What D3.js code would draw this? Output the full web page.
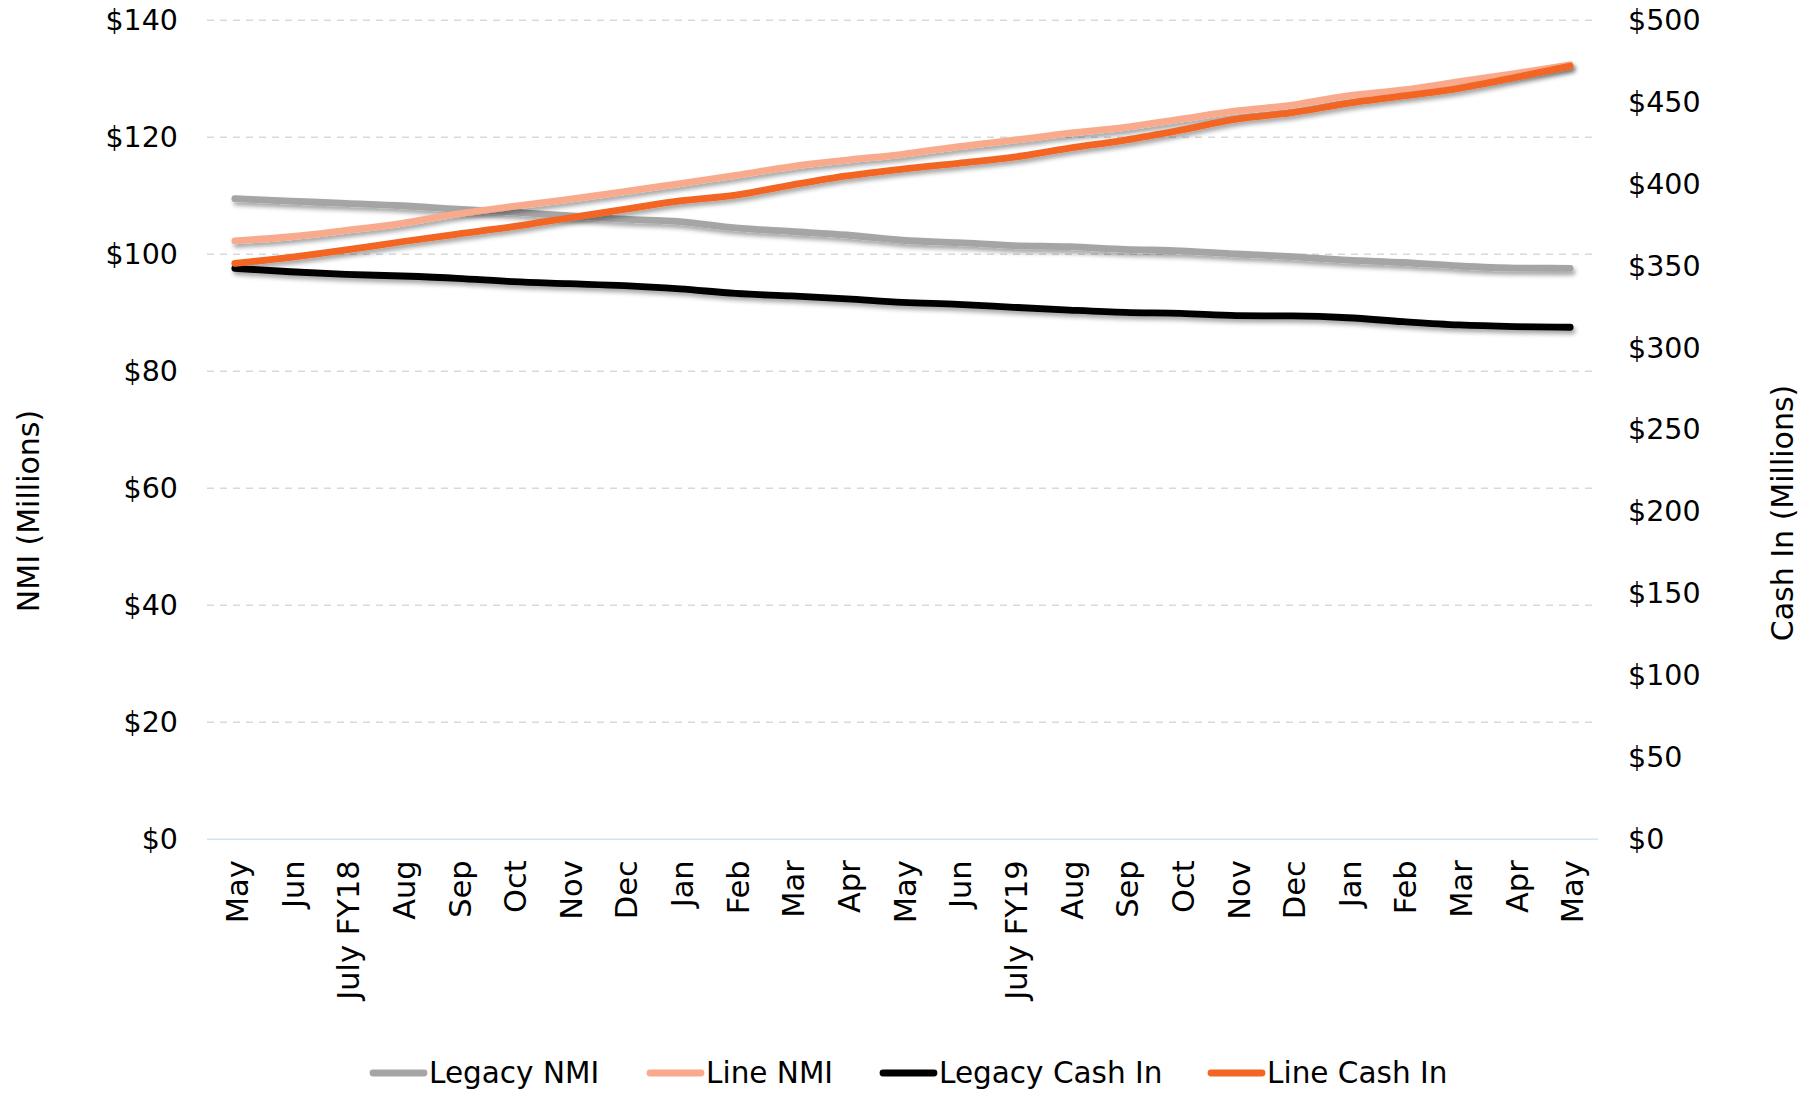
<!DOCTYPE html>
<html><head><meta charset="utf-8">
<script src="https://cdn.jsdelivr.net/npm/d3@7"></script>
<style>html,body{margin:0;padding:0;background:#fff;} text{font-family:"DejaVu Sans",Verdana,sans-serif;fill:#000;}</style>
</head><body>
<svg id="chart" width="1812" height="1093"></svg>
<script>
const categories = ["May","Jun","July FY18","Aug","Sep","Oct","Nov","Dec","Jan","Feb","Mar","Apr","May","Jun","July FY19","Aug","Sep","Oct","Nov","Dec","Jan","Feb","Mar","Apr","May"];
const legacyNMI = [109.5,109.1,108.7,108.3,107.7,107.2,106.6,106.0,105.6,104.5,103.9,103.3,102.4,102.0,101.5,101.3,100.85,100.6,100.05,99.6,99.0,98.6,98.0,97.65,97.6];
const lineNMI = [102.3,103.0,104.1,105.3,106.9,108.2,109.4,110.7,112.1,113.5,115.0,116.1,117.1,118.4,119.5,120.7,121.7,123.1,124.5,125.5,127.1,128.1,129.5,130.9,132.4];
const legacyCash = [348.6,346.5,344.9,343.9,342.5,340.4,339.2,338.0,336.0,333.3,331.7,329.9,327.8,326.6,324.8,323.1,321.7,321.1,319.7,319.5,318.4,316.0,314.0,313.0,312.6];
const lineCash = [351.6,355.3,359.8,364.8,369.5,374.0,379.3,384.6,389.7,393.3,399.4,405.0,409.2,412.7,416.4,421.9,426.9,433.0,439.7,443.6,449.3,453.8,458.5,465.0,472.0];
const leftTicks = [0,20,40,60,80,100,120,140];
const rightTicks = [0,50,100,150,200,250,300,350,400,450,500];
const seriesNames = ["Legacy NMI","Line NMI","Legacy Cash In","Line Cash In"];

const svg = d3.select("#chart");
const L = 207, R = 1598, T = 20.3, B = 839.3;
const FS = 28.5, FSX = 30.5, FSL = 29.5, FST = 30;

const defs = svg.append("defs");
const f = defs.append("filter").attr("id","shadow").attr("x","-5%").attr("y","-50%").attr("width","110%").attr("height","200%");
f.append("feDropShadow").attr("dx",2).attr("dy",3.5).attr("stdDeviation",2.2).attr("flood-color","#000").attr("flood-opacity",0.35);

const x = d3.scalePoint().domain(d3.range(categories.length)).range([L,R]).padding(0.5);
const yL = d3.scaleLinear().domain([0,140]).range([B,T]);
const yR = d3.scaleLinear().domain([0,500]).range([B,T]);

// gridlines
svg.append("g").selectAll("line").data(leftTicks.filter(d=>d>0)).join("line")
  .attr("x1",L).attr("x2",R).attr("y1",d=>yL(d)).attr("y2",d=>yL(d))
  .attr("stroke","#d9d9d9").attr("stroke-width",1.6).attr("stroke-dasharray","7,6");

// bottom axis line
svg.append("line").attr("x1",L).attr("x2",R).attr("y1",B).attr("y2",B).attr("stroke","#d6e2f0").attr("stroke-width",1.6);

// left axis
const gl = svg.append("g").attr("transform",`translate(${L},0)`)
  .call(d3.axisLeft(yL).tickValues(leftTicks).tickFormat(d=>"$"+d).tickSize(0).tickPadding(29));
gl.select(".domain").remove();
gl.selectAll("text").style("font-size",FS+"px").attr("font-family","DejaVu Sans");

// right axis
const gr = svg.append("g").attr("transform",`translate(${R},0)`)
  .call(d3.axisRight(yR).tickValues(rightTicks).tickFormat(d=>"$"+d).tickSize(0).tickPadding(30));
gr.select(".domain").remove();
gr.selectAll("text").style("font-size",FS+"px").attr("font-family","DejaVu Sans");

// x axis
const gx = svg.append("g").attr("transform",`translate(0,${B})`)
  .call(d3.axisBottom(x).tickFormat(i=>categories[i]).tickSize(0));
gx.select(".domain").remove();
gx.selectAll("text").style("font-size",FSX+"px").attr("font-family","DejaVu Sans")
  .attr("text-anchor","end").attr("dy","0.35em")
  .attr("transform",function(d){return `translate(0,21) rotate(-90)`;})
  .attr("x",0).attr("y",2);

// axis titles
svg.append("text").attr("transform","translate(28,511) rotate(-90)").attr("text-anchor","middle")
  .attr("dominant-baseline","central").style("font-size",FST+"px").text("NMI (Millions)");
svg.append("text").attr("transform","translate(1782,513) rotate(-90)").attr("text-anchor","middle")
  .attr("dominant-baseline","central").style("font-size",FST+"px").text("Cash In (Millions)");

// lines
const series = [
  {name:seriesNames[0], values:legacyNMI, y:yL, color:"#a5a5a5"},
  {name:seriesNames[1], values:lineNMI, y:yL, color:"#f9aa8c"},
  {name:seriesNames[2], values:legacyCash, y:yR, color:"#000000"},
  {name:seriesNames[3], values:lineCash, y:yR, color:"#f26522"}
];
const gLines = svg.append("g");
series.forEach(s=>{
  const line = d3.line().x((d,i)=>x(i)).y(d=>s.y(d)).curve(d3.curveMonotoneX);
  gLines.append("path").datum(s.values).attr("d",line).attr("fill","none")
    .attr("stroke",s.color).attr("stroke-width",6.8).attr("stroke-linecap","round").attr("stroke-linejoin","round")
    .attr("filter","url(#shadow)");
});

// legend
const legendX = [370,647,880,1208];
const legY = 1073;
const lg = svg.append("g");
series.forEach((s,i)=>{
  const g = lg.append("g").attr("transform",`translate(${legendX[i]},${legY})`);
  g.append("line").attr("x1",3).attr("x2",54).attr("y1",0).attr("y2",0).attr("stroke",s.color)
    .attr("stroke-width",6.8).attr("stroke-linecap","round");
  g.append("text").attr("x",59).attr("y",0).attr("dominant-baseline","central").style("font-size",FSL+"px").text(s.name);
});
</script>
</body></html>
